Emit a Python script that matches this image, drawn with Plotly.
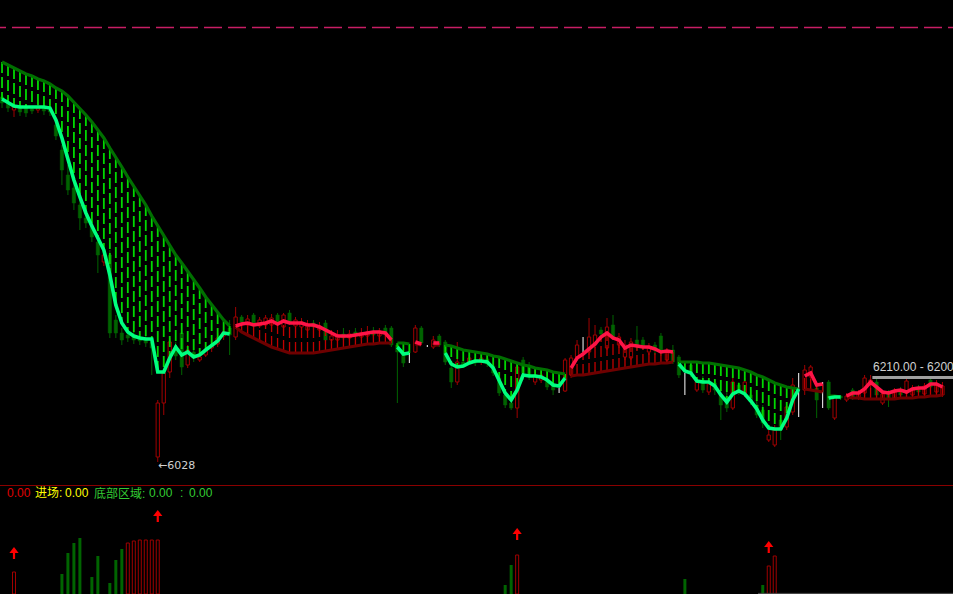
import plotly.graph_objects as go

# ---------------- data (prices; bar index 0..157) ----------------
open_ = [6393,6387,6380,6383,6382,6381,6380,6382,6380,6365,6340,6315,6302,6285,6272,6265,6248,6228,6235,6170,
         6157,6155,6154,6152,6150,6148,6033,6087,6118,6140,6157,6125,6138,6130,6135,6142,6146,6154,6162,
         6153,6173,6165,6175,6164,6165,6165,6175,6163,6177,6164,6163,6160,6167,6160,6167,6150,6150,6156,6152,
         6158,6153,6154,6159,6154,6162,6162,
         6145,6137,6135,6138,6162,6144,6143,6154,
         6148,6122,6108,6128,6128,6130,6128,6131,6124,6112,6095,6087,6082,6130,6124,6108,6110,6110,6107,6100,6099,
         6115,6133,6140,6138,6145,6160,6142,6165,6145,6133,6132,6150,6150,6138,6145,6154,6130,6140,
         6133,6110,6125,6100,6110,6098,6107,6095,6093,6082,6105,6097,6095,6085,6080,6050,6045,6070,6063,6078,6100,
         6100,6113,6102,6095,
         6108,6072,6094,
         6090,6100,6092,6097,6105,6108,6087,6098,6092,6100,6097,6095,6102,6096,6110,6098,6095]
close = [6387,6382,6383,6378,6377,6379,6382,6379,6378,6354,6320,6300,6287,6272,6267,6253,6235,6235,6157,6157,
         6150,6152,6150,6149,6147,6142,6087,6117,6148,6134,6123,6140,6132,6133,6140,6145,6152,6158,6155,
         6173,6168,6171,6165,6170,6172,6172,6168,6175,6168,6170,6168,6165,6163,6164,6150,6154,6155,6152,6156,
         6154,6157,6158,6155,6159,6156,6145,
         6138,6127,6135,6162,6147,6144,6150,6145,
         6128,6108,6128,6125,6132,6127,6132,6126,6117,6097,6085,6082,6123,6117,6115,6115,6115,6103,6100,6100,6130,
         6132,6145,6140,6153,6155,6156,6163,6153,6153,6145,6148,6143,6143,6143,6140,6138,6138,6128,
         6115,6110,6117,6108,6100,6106,6100,6085,6082,6108,6098,6108,6088,6075,6067,6055,6060,6060,6083,6105,6100,
         6120,6123,6090,6095,
         6082,6093,6092,
         6094,6093,6097,6112,6110,6095,6096,6092,6098,6095,6109,6102,6098,6104,6103,6105,6104]
high = [6396,6390,6386,6386,6385,6384,6385,6384,6383,6372,6345,6325,6308,6292,6278,6270,6254,6240,6240,6175,
        6162,6160,6158,6156,6154,6152,6090,6120,6152,6148,6160,6145,6142,6138,6145,6150,6157,6165,6170,
        6183,6175,6175,6177,6173,6175,6176,6177,6177,6180,6173,6172,6170,6170,6168,6170,6160,6160,6162,6160,
        6162,6162,6164,6163,6162,6165,6164,
        6147,6140,6138,6165,6164,6145,6154,6156,
        6150,6128,6148,6130,6135,6133,6135,6134,6128,6118,6100,6092,6128,6133,6128,6120,6118,6114,6112,6102,6132,
        6135,6150,6153,6172,6165,6163,6172,6175,6157,6150,6152,6164,6153,6147,6148,6157,6142,6145,
        6135,6117,6128,6112,6114,6110,6110,6100,6098,6115,6108,6112,6100,6090,6085,6060,6065,6075,6088,6112,6117,
        6125,6125,6105,6108,
        6110,6095,6095,
        6097,6102,6100,6115,6115,6112,6100,6100,6102,6103,6112,6105,6105,6107,6112,6110,6108]
low = [6382,6378,6373,6374,6373,6376,6377,6375,6374,6350,6305,6295,6280,6260,6262,6248,6217,6224,6152,6152,
       6145,6148,6146,6145,6143,6115,6028,6075,6112,6130,6115,6122,6128,6128,6133,6138,6143,6150,6135,
       6150,6165,6163,6162,6162,6163,6160,6164,6160,6165,6158,6160,6157,6160,6155,6148,6145,6147,6150,6149,
       6151,6150,6151,6152,6151,6153,6143,
       6087,6123,6127,6137,6145,6143,6141,6143,
       6125,6102,6105,6123,6126,6124,6125,6123,6114,6094,6082,6080,6072,6110,6110,6105,6107,6100,6095,6097,6098,
       6112,6130,6138,6135,6142,6153,6140,6150,6142,6130,6130,6140,6140,6135,6135,6134,6128,6126,
       6112,6095,6113,6098,6097,6095,6095,6070,6078,6080,6095,6093,6085,6072,6062,6048,6043,6050,6060,6075,6073,
       6095,6110,6072,6082,
       6080,6070,6090,
       6088,6090,6090,6094,6102,6092,6085,6083,6090,6092,6094,6093,6095,6094,6100,6095,6093]

# slow (thick dark) line and fast (bright) line
slow_line = [6428,6425,6422,6419,6416,6414,6411,6409,6406,6402,6399,6394,6388,6382,6375,6368,6360,6352,6342,6333,
             6323,6313,6304,6294,6285,6274,6264,6254,6244,6235,6227,6219,6211,6202,6193,6185,6177,6170,6164,
             6163,6158,6155,6152,6149,6146,6143,6141,6139,6137,6137,6137,6137,6137,6138,6139,6140,6141,6142,6143,
             6144,6145,6146,6146,6147,6147,6147,
             6147,6147,6146,6146,6145,None,6145,6145,
             6145,6144,6142,6140,6139,6138,6137,6136,6134,6133,6131,6129,6127,6125,6124,6122,6121,6120,6118,6117,6116,
             6114,6115,6115,6116,6117,6118,6119,6120,6121,6122,6123,6124,6125,6126,6126,6127,6127,6128,
             6128,6128,6128,6128,6127,6127,6126,6125,6124,6123,6122,6120,6118,6115,6113,6110,6107,6105,6103,6102,6101,
             6101,6100,6099,6098,
             6094,6094,6093,
             6093,6092,6092,6091,6091,6091,6091,6091,6091,6092,6092,6092,6093,6093,6094,6094,6095]
fast_line = [6391,6388,6384,6383,6383,6383,6383,6383,6382,6370,6352,6330,6310,6293,6277,6264,6252,6240,6215,6185,
             6167,6158,6154,6152,6151,6151,6118,6118,6132,6143,6135,6138,6133,6135,6140,6144,6149,6157,6156,
             6164,6166,6167,6165,6166,6167,6169,6166,6169,6167,6167,6167,6165,6165,6163,6160,6157,6154,6154,6154,
             6155,6156,6157,6158,6158,6157,6150,
             6143,6136,6137,6148,6146,None,6147,6147,
             6137,6126,6123,6124,6127,6129,6129,6128,6122,6110,6097,6090,6100,6115,6114,6114,6113,6110,6105,6104,6112,
             6122,6132,6136,6141,6146,6153,6157,6152,6150,6142,6145,6144,6143,6143,6141,6138,6139,6138,
             6126,6119,6117,6109,6108,6108,6104,6095,6088,6096,6099,6096,6089,6081,6070,6062,6061,6061,6072,6090,6101,
             6114,6117,6105,6106,
             6092,6093,6093,
             6094,6097,6097,6101,6108,6103,6098,6097,6099,6100,6098,6101,6102,6102,6106,6106,6103]

# trend segments: (state, first bar, last bar)
segments = [("down", 0, 38), ("up", 39, 65), ("down", 66, 68), ("up", 69, 70), ("up", 72, 73),
            ("down", 74, 94), ("up", 95, 112), ("down", 113, 133), ("up", 134, 137),
            ("down", 138, 140), ("up", 141, 157)]

# lower panel signal bars
sig_idx = [2, 10, 11, 12, 13, 15, 16, 18, 19, 20, 21, 22, 23, 24, 25, 26, 84, 85, 86, 114, 127, 128, 129]
sig_val = [22, 20, 41, 51, 56, 17, 38, 11, 34, 45, 51, 53, 54, 54, 54, 54, 9, 29, 39, 15, 9, 28, 38]
sig_dir = ["up", "down", "down", "down", "down", "down", "down", "down", "down", "down",
           "up", "up", "up", "up", "up", "up", "down", "down", "up", "down", "down", "up", "up"]
arrow_idx = [2, 26, 86, 128]
arrow_top = [47, 84, 66, 53]

range_hi, range_lo = 6210.00, 6200
range_level = 6112.5

# ---------------- styles ----------------
RED_C = "#a00000"
GRN_C = "#006400"
SLOW_C = {"down": "#007000", "up": "#6e0000"}
FAST_C = {"down": "#00ff7f", "up": "#ff1447"}
DASH_C = {"down": "#00d800", "up": "#c00000"}
DASH_W = {"down": 1.8, "up": 1.3}
FONT = "Liberation Sans, Noto Sans CJK SC, sans-serif"

n = len(open_)
fig = go.Figure()

# candle wicks
def wicks(idxs, color, doji=False):
    xs, ys = [], []
    for i in idxs:
        if doji:
            xs += [i, i, None]
            ys += [high[i], low[i], None]
        else:
            top, bot = max(open_[i], close[i]), min(open_[i], close[i])
            xs += [i, i, None, i, i, None]
            ys += [high[i], top, None, bot, low[i], None]
    return go.Scatter(x=xs, y=ys, mode="lines", line=dict(color=color, width=1),
                      hoverinfo="skip", showlegend=False, xaxis="x", yaxis="y")

up_i = [i for i in range(n) if close[i] > open_[i]]
dn_i = [i for i in range(n) if close[i] < open_[i]]
dj_i = [i for i in range(n) if close[i] == open_[i]]

fig.add_trace(wicks(up_i, RED_C))
fig.add_trace(wicks(dn_i, GRN_C))
fig.add_trace(wicks(dj_i, "#ffffff", doji=True))
fig.add_trace(go.Bar(x=up_i, y=[close[i] - open_[i] for i in up_i], base=[open_[i] for i in up_i],
                     width=0.55, marker=dict(color="black", line=dict(color=RED_C, width=1)),
                     hoverinfo="skip", showlegend=False, xaxis="x", yaxis="y"))
fig.add_trace(go.Bar(x=dn_i, y=[open_[i] - close[i] for i in dn_i], base=[close[i] for i in dn_i],
                     width=0.55, marker=dict(color=GRN_C, line=dict(color=GRN_C, width=0.5)),
                     hoverinfo="skip", showlegend=False, xaxis="x", yaxis="y"))

# dashed verticals between the two lines
for state in ("down", "up"):
    xs, ys = [], []
    for st, a, b in segments:
        if st != state:
            continue
        for i in range(a, b + 1):
            xs += [i, i, None]
            ys += [slow_line[i], fast_line[i], None]
    fig.add_trace(go.Scatter(x=xs, y=ys, mode="lines",
                             line=dict(color=DASH_C[state], width=DASH_W[state], dash="11px,4px"),
                             hoverinfo="skip", showlegend=False))

# slow and fast lines
for arr, cmap, w in ((slow_line, SLOW_C, 3.2), (fast_line, FAST_C, 3.6)):
    for state in ("down", "up"):
        xs, ys = [], []
        for st, a, b in segments:
            if st != state:
                continue
            xs += list(range(a, b + 1)) + [None]
            ys += [arr[i] for i in range(a, b + 1)] + [None]
        fig.add_trace(go.Scatter(x=xs, y=ys, mode="lines", line=dict(color=cmap[state], width=w),
                                 hoverinfo="skip", showlegend=False, connectgaps=False))

# lower panel bars
su = [k for k in range(len(sig_idx)) if sig_dir[k] == "up"]
sd = [k for k in range(len(sig_idx)) if sig_dir[k] == "down"]
fig.add_trace(go.Bar(x=[sig_idx[k] for k in sd], y=[sig_val[k] for k in sd], width=0.5,
                     marker=dict(color=GRN_C, line=dict(width=0)), xaxis="x2", yaxis="y2",
                     hoverinfo="skip", showlegend=False))
fig.add_trace(go.Bar(x=[sig_idx[k] for k in su], y=[sig_val[k] for k in su], width=0.5,
                     marker=dict(color="black", line=dict(color=RED_C, width=1)), xaxis="x2", yaxis="y2",
                     hoverinfo="skip", showlegend=False))
# arrows
sx, sy = [], []
for i, t in zip(arrow_idx, arrow_top):
    sx += [i, i, None]
    sy += [t - 5, t - 12, None]
fig.add_trace(go.Scatter(x=sx, y=sy, mode="lines", line=dict(color="#ff0000", width=2.2),
                         xaxis="x2", yaxis="y2", hoverinfo="skip", showlegend=False))
fig.add_trace(go.Scatter(x=arrow_idx, y=[t - 4 for t in arrow_top], mode="markers",
                         marker=dict(symbol="triangle-up", size=8, color="#ff0000"),
                         xaxis="x2", yaxis="y2", hoverinfo="skip", showlegend=False))

# ---------------- layout ----------------
xr = [-0.3372, 158.76]
shapes = [
    dict(type="line", xref="paper", yref="paper", x0=-12 / 953, x1=1, y0=1 - 27.5 / 594, y1=1 - 27.5 / 594,
         line=dict(color="#c81e64", width=1.5, dash="18px,6px")),
    dict(type="line", xref="paper", yref="paper", x0=0, x1=1, y0=1 - 485.5 / 594, y1=1 - 485.5 / 594,
         line=dict(color="#8a0000", width=1.2)),
    dict(type="rect", xref="x", yref="y", x0=145.3, x1=159, y0=range_level - 1.5, y1=range_level + 1.5,
         fillcolor="#a0a0a0", line=dict(width=0)),
    dict(type="line", xref="paper", yref="paper", x0=758 / 953, x1=1, y0=0.6 / 594, y1=0.6 / 594,
         line=dict(color="#505050", width=1)),
]
low_i = low.index(min(low))
annotations = [
    dict(x=low_i, y=min(low), xref="x", yref="y", text="←" + str(min(low)), showarrow=False,
         xanchor="left", yanchor="middle", xshift=-2, yshift=-3,
         font=dict(family="DejaVu Sans", size=11, color="#d0d0d0")),
    dict(x=145.1, y=range_level + 11, xref="x", yref="y",
         text=f"{range_hi:.2f} - {range_lo}", showarrow=False, xanchor="left", yanchor="middle",
         font=dict(family=FONT, size=12, color="#d0d0d0")),
]
legend_items = [(5, "0.00", "#e00000"), (33, "进场:", "#ffff00"), (63, "0.00", "#ffff00"),
                (92, "底部区域:", "#33cc33"), (147, "0.00", "#33cc33"), (178, ":", "#33cc33"),
                (187, "0.00", "#33cc33")]
for px, txt, col in legend_items:
    annotations.append(dict(x=px / 953, y=1 - 493 / 594, xref="paper", yref="paper", text=txt,
                            showarrow=False, xanchor="left", yanchor="middle",
                            font=dict(family=FONT, size=12, color=col)))

fig.update_layout(
    width=953, height=594, margin=dict(l=0, r=0, t=0, b=0),
    paper_bgcolor="black", plot_bgcolor="black", barmode="overlay", showlegend=False,
    xaxis=dict(range=xr, visible=False, domain=[0, 1], anchor="y"),
    yaxis=dict(range=[6006, 6460], domain=[1 - 484 / 594, 1 - 30 / 594], visible=False),
    xaxis2=dict(range=xr, visible=False, domain=[0, 1], anchor="y2"),
    yaxis2=dict(range=[0, 108], domain=[0, 1 - 486 / 594], visible=False),
    shapes=shapes, annotations=annotations, hovermode=False,
)
fig.write_html("out.html", config={"displayModeBar": False},
               post_script="document.body.style.margin='0';document.body.style.padding='0';"
                           "document.body.style.background='black';document.body.style.overflow='hidden';")
